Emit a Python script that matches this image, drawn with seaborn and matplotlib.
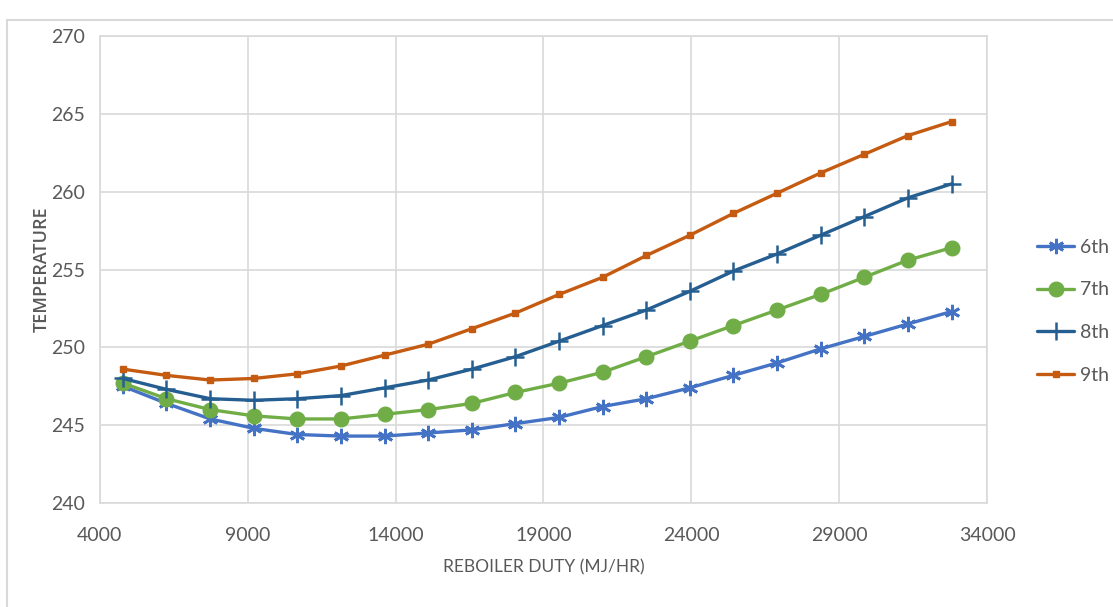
import numpy as np
import pandas as pd
import seaborn as sns
import matplotlib.pyplot as plt
from matplotlib.patches import Rectangle

# Data
duty = [4780, 6250, 7730, 9200, 10680, 12150, 13630, 15100, 16580, 18050,
        19530, 21000, 22480, 23950, 25420, 26900, 28370, 29850, 31320, 32800]

t_6th = [247.5, 246.4, 245.4, 244.8, 244.4, 244.3, 244.3, 244.5, 244.7, 245.1,
         245.5, 246.2, 246.7, 247.4, 248.2, 249.0, 249.9, 250.7, 251.5, 252.3]
t_7th = [247.7, 246.7, 246.0, 245.6, 245.4, 245.4, 245.7, 246.0, 246.4, 247.1,
         247.7, 248.4, 249.4, 250.4, 251.4, 252.4, 253.4, 254.5, 255.6, 256.4]
t_8th = [248.0, 247.3, 246.7, 246.6, 246.7, 246.9, 247.4, 247.9, 248.6, 249.4,
         250.4, 251.4, 252.4, 253.6, 254.9, 256.0, 257.2, 258.4, 259.6, 260.5]
t_9th = [248.6, 248.2, 247.9, 248.0, 248.3, 248.8, 249.5, 250.2, 251.2, 252.2,
         253.4, 254.5, 255.9, 257.2, 258.6, 259.9, 261.2, 262.4, 263.6, 264.5]

labels = ['6th', '7th', '8th', '9th']
x_ticks = [4000, 9000, 14000, 19000, 24000, 29000, 34000]
y_ticks = [240, 245, 250, 255, 260, 265, 270]

sns.set_style("whitegrid", {"grid.color": "#d9d9d9", "axes.edgecolor": "#d9d9d9"})
plt.rcParams['font.family'] = ['Lato', 'DejaVu Sans']

fig = plt.figure(figsize=(11.13, 6.07), dpi=100)
ax = fig.add_axes([0.0898, 0.1713, 0.797, 0.7694])

# colour, marker, size, edge width
styles = {
    '6th': ('#4472c4', (6, 2, 0), 11, 2.0),
    '7th': ('#70ad47', 'o', 10.5, 1.0),
    '8th': ('#255e91', '+', 13, 1.8),
    '9th': ('#c55a11', 's', 4.5, 1.0),
}

for lab, vals in zip(labels, [t_6th, t_7th, t_8th, t_9th]):
    color, marker, ms, mew = styles[lab]
    sns.lineplot(x=duty, y=vals, ax=ax, color=color, lw=2.4, label=lab,
                 marker=marker, markersize=ms, markeredgewidth=mew,
                 markeredgecolor=color, markerfacecolor=color)

ax.set_xlim(4000, 34000)
ax.set_ylim(240, 270)
ax.set_xticks(x_ticks)
ax.set_yticks(y_ticks)
ax.grid(True, color='#d9d9d9', lw=1.2)
for s in ax.spines.values():
    s.set_color('#d9d9d9')
    s.set_linewidth(1.2)
ax.tick_params(axis='both', length=0, labelsize=14, labelcolor='#595959')
ax.tick_params(axis='x', pad=17)
ax.tick_params(axis='y', pad=11)

ax.set_xlabel('REBOILER DUTY (MJ/HR)', fontsize=12.5, color='#595959')
ax.xaxis.set_label_coords(0.5, -0.12)
ax.set_ylabel('TEMPERATURE', fontsize=13, color='#595959',
              family=['Open Sans', 'DejaVu Sans'], fontweight='semibold')
ax.yaxis.set_label_coords(-0.056, 0.5)

ax.legend(loc='upper left', bbox_to_anchor=(0.932, 0.607),
          bbox_transform=fig.transFigure, frameon=False, fontsize=14,
          borderaxespad=0, borderpad=0,
          labelspacing=1.33, handlelength=1.9, handletextpad=0.3,
          labelcolor='#595959')

# outer chart frame
fig.patches.append(Rectangle((0.0065, -0.01), 1.1, 0.977, transform=fig.transFigure,
                             fill=False, edgecolor='#d9d9d9', lw=1.5))

fig.savefig('out.png', dpi=100)
